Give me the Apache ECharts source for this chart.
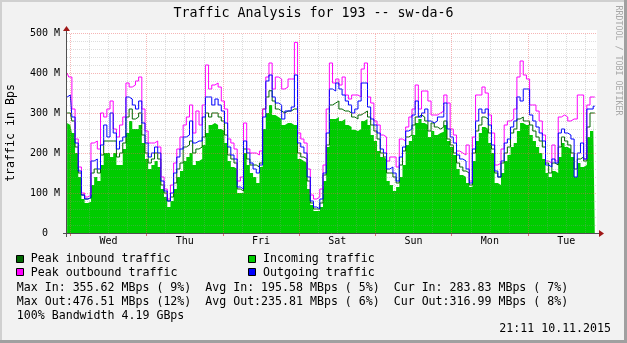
<!DOCTYPE html>
<html>
<head>
<meta charset="utf-8">
<script src="https://cdn.jsdelivr.net/npm/echarts@6/dist/echarts.min.js"></script>
<style>
  html, body { margin: 0; padding: 0; background: #f2f2f2; }
  #chart { width: 627px; height: 343px; }
</style>
</head>
<body>
<div id="chart"></div>
<script>
// Hourly samples, hours counted from Wednesday 00:00 (first sample is Tue 23:00).
const firstSampleHour = -1;
const dayNames = ['Wed', 'Thu', 'Fri', 'Sat', 'Sun', 'Mon', 'Tue'];
const yTickValues = [0, 100, 200, 300, 400, 500];   // MBps

// Incoming traffic (average), MBps
const incoming = [
  275, 270, 250, 200, 140, 85, 75, 78, 120, 140, 130, 170, 200, 200, 190, 200, 170, 170, 210, 250,
  280, 260, 260, 270, 225, 185, 160, 170, 180, 165, 110, 90, 65, 80, 110, 140, 155, 180, 190, 200,
  170, 180, 185, 220, 250, 270, 275, 270, 260, 255, 225, 180, 165, 160, 100, 100, 200, 170, 150, 140,
  125, 165, 260, 300, 320, 295, 290, 285, 270, 275, 275, 270, 270, 185, 180, 175, 110, 70, 55, 55,
  65, 130, 215, 285, 285, 290, 280, 285, 270, 265, 258, 255, 260, 280, 285, 270, 245, 230, 205, 190,
  185, 130, 120, 105, 115, 140, 170, 220, 230, 245, 275, 285, 275, 270, 240, 255, 245, 250, 253, 270,
  230, 215, 195, 160, 145, 140, 125, 115, 180, 230, 250, 265, 260, 225, 200, 125, 120, 150, 180, 195,
  215, 225, 255, 275, 270, 270, 245, 230, 215, 200, 185, 150, 140, 155, 150, 190, 225, 215, 210, 190,
  140, 175, 165, 170, 240, 255, 283.83
];

// Peak inbound traffic, MBps
const peakIn = [
  300, 300, 280, 215, 150, 95, 85, 88, 150, 160, 150, 195, 230, 230, 230, 230, 190, 200, 225, 290,
  310, 285, 290, 300, 245, 200, 175, 185, 200, 185, 120, 100, 80, 90, 125, 160, 175, 215, 220, 230,
  200, 210, 215, 240, 300, 290, 300, 300, 290, 280, 245, 195, 185, 175, 110, 105, 210, 185, 170, 170,
  165, 175, 310, 340, 355.62, 330, 310, 305, 300, 305, 305, 310, 310, 200, 190, 185, 130, 75, 60, 60,
  75, 145, 220, 320, 325, 330, 310, 305, 305, 300, 290, 285, 295, 300, 305, 290, 270, 255, 235, 200,
  190, 150, 150, 140, 125, 170, 205, 240, 245, 270, 290, 295, 290, 280, 255, 275, 265, 260, 265, 280,
  235, 220, 200, 175, 165, 155, 150, 120, 200, 255, 270, 290, 285, 250, 210, 150, 140, 175, 200, 215,
  250, 260, 285, 290, 280, 280, 270, 255, 240, 230, 215, 175, 150, 175, 170, 215, 240, 230, 220, 200,
  160, 185, 190, 180, 265, 300, 300
];

// Outgoing traffic (average), MBps
const outgoing = [
  340, 345, 290, 225, 155, 95, 85, 88, 180, 185, 160, 220, 270, 240, 300, 250, 210, 230, 240, 340,
  335, 320, 310, 330, 275, 225, 190, 200, 215, 200, 130, 105, 80, 100, 150, 190, 210, 240, 245, 280,
  225, 230, 230, 290, 340, 340, 320, 335, 320, 305, 275, 215, 195, 185, 115, 110, 230, 200, 175, 160,
  150, 170, 290, 380, 395, 340, 325, 320, 285, 305, 305, 315, 395, 225, 215, 200, 140, 80, 65, 60,
  85, 150, 250, 360, 355, 375, 360, 345, 330, 320, 300, 310, 330, 375, 375, 315, 285, 270, 250, 210,
  200, 160, 165, 150, 130, 190, 215, 255, 260, 295, 330, 290, 300, 310, 280, 275, 280, 290, 290, 325,
  260, 240, 225, 195, 185, 180, 160, 125, 210, 280, 310, 300, 310, 270, 220, 155, 140, 180, 225, 235,
  265, 280, 340, 330, 360, 360, 295, 280, 265, 250, 230, 170, 165, 185, 175, 250, 260, 250, 245, 235,
  140, 200, 225, 185, 310, 310, 316.99
];

// Peak outbound traffic, MBps
const peakOut = [
  400, 390, 310, 235, 165, 100, 90, 95, 225, 230, 210, 300, 290, 310, 330, 260, 240, 270, 290, 375,
  365, 370, 380, 390, 310, 255, 225, 225, 230, 215, 140, 110, 85, 120, 175, 210, 240, 270, 290, 320,
  250, 305, 270, 320, 420, 360, 370, 375, 365, 330, 310, 235, 225, 210, 130, 140, 275, 210, 200, 200,
  195, 205, 310, 390, 425, 360, 390, 385, 360, 365, 385, 385, 476.51, 250, 235, 225, 160, 95, 85, 90,
  110, 170, 310, 425, 375, 385, 370, 390, 345, 335, 345, 345, 340, 410, 425, 340, 325, 280, 270, 245,
  240, 180, 190, 190, 165, 235, 230, 265, 290, 310, 370, 310, 355, 355, 330, 295, 295, 300, 305, 345,
  325, 260, 245, 205, 200, 195, 220, 130, 240, 345, 345, 365, 350, 295, 250, 170, 175, 210, 270, 280,
  285, 310, 390, 430, 395, 385, 320, 320, 305, 280, 245, 180, 175, 220, 180, 290, 295, 290, 280, 285,
  285, 345, 345, 185, 320, 340, 340
];

const legendRows = [
  'Max In: 355.62 MBps ( 9%)  Avg In: 195.58 MBps ( 5%)  Cur In: 283.83 MBps ( 7%)',
  'Max Out:476.51 MBps (12%)  Avg Out:235.81 MBps ( 6%)  Cur Out:316.99 MBps ( 8%)',
  '100% Bandwidth 4.19 GBps'
];
const stampText = '21:11 10.11.2015';

const MONO = '"DejaVu Sans Mono", "Liberation Mono", monospace';
const MINOR_GRID = 'rgba(150,150,150,0.32)';
const MAJOR_GRID = 'rgba(235,90,90,0.45)';

const toPairs = arr => arr.map((v, i) => [firstSampleHour + i, v]);

// vertical grid: day boundaries (major) and 6-hour steps (minor)
const dayBounds = dayNames.map((_, i) => i * 24);
const sixHourMarks = [];
dayNames.forEach((_, d) => [6, 12, 18].forEach(h => sixHourMarks.push(d * 24 + h)));
const noonMarks = dayNames.map((_, i) => i * 24 + 12);

const chart = echarts.init(document.getElementById('chart'), null, { renderer: 'canvas' });

const vGrid = [
  ...sixHourMarks.map(h => ({ xAxis: h, lineStyle: { color: MINOR_GRID, type: [1, 1], width: 1 } })),
  ...dayBounds.map(h => ({ xAxis: h, lineStyle: { color: MAJOR_GRID, type: [1, 1], width: 1 } }))
];

const lineSeries = (name, data, color, z) => ({
  name, type: 'line', step: 'middle', data: toPairs(data),
  symbol: 'none', z, color,
  lineStyle: { color, width: 1 },
  emphasis: { disabled: true }
});

chart.setOption({
  animation: false,
  backgroundColor: '#f2f2f2',
  grid: { left: 67, right: 30, top: 33, bottom: 110, show: true, backgroundColor: '#ffffff', borderWidth: 0 },
  xAxis: {
    type: 'value', min: -1.04, max: 165.7,
    axisLine: { show: false },
    axisTick: { show: true, customValues: dayBounds, length: 3, lineStyle: { color: '#e07070' } },
    axisLabel: {
      customValues: noonMarks,
      formatter: v => dayNames[Math.round((v - 12) / 24)],
      color: '#000', fontFamily: MONO, fontSize: 10, margin: 3
    },
    splitLine: { show: false }
  },
  yAxis: {
    type: 'value', min: yTickValues[0], max: yTickValues[yTickValues.length - 1], interval: 100,
    z: 3,
    axisLine: { show: false },
    axisTick: { show: false },
    axisLabel: {
      formatter: v => (v === 0 ? '0  ' : v + ' M'),
      color: '#000', fontFamily: MONO, fontSize: 10, margin: 7
    },
    splitLine: { show: true, lineStyle: { color: MAJOR_GRID, type: [1, 1], width: 1 } },
    minorTick: { show: false, splitNumber: 5 },
    minorSplitLine: { show: true, lineStyle: { color: MINOR_GRID, type: [1, 1], width: 1 } }
  },
  series: [
    {
      name: 'Incoming traffic', type: 'line', step: 'middle', data: toPairs(incoming),
      symbol: 'none', z: 1, color: '#00cc00',
      lineStyle: { width: 0 },
      areaStyle: { color: '#00cc00', opacity: 1 },
      markLine: { silent: true, symbol: 'none', label: { show: false }, z: 4, animation: false, data: vGrid }
    },
    lineSeries('Peak inbound traffic', peakIn, '#006600', 2),
    lineSeries('Peak outbound traffic', peakOut, '#ff00ff', 2),
    lineSeries('Outgoing traffic', outgoing, '#0000ff', 2)
  ],
  graphic: [
    // frame shading
    { type: 'rect', shape: { x: 0, y: 0, width: 627, height: 2 }, style: { fill: '#d0d0d0' }, silent: true },
    { type: 'rect', shape: { x: 0, y: 0, width: 2, height: 343 }, style: { fill: '#d0d0d0' }, silent: true },
    { type: 'rect', shape: { x: 624, y: 0, width: 3, height: 343 }, style: { fill: '#a0a0a0' }, silent: true },
    { type: 'rect', shape: { x: 0, y: 340, width: 627, height: 3 }, style: { fill: '#a0a0a0' }, silent: true },
    // canvas strip above the top gridline
    { type: 'rect', shape: { x: 67, y: 30, width: 530, height: 3 }, style: { fill: '#ffffff' }, silent: true, z: -1 },
    // axes with arrows
    { type: 'line', shape: { x1: 66.5, y1: 30, x2: 66.5, y2: 237 }, style: { stroke: '#505050', lineWidth: 1 }, silent: true, z: 10 },
    { type: 'line', shape: { x1: 63, y1: 233.5, x2: 600, y2: 233.5 }, style: { stroke: '#505050', lineWidth: 1 }, silent: true, z: 10 },
    { type: 'polygon', shape: { points: [[63, 31], [70, 31], [66.5, 26]] }, style: { fill: '#a01818' }, silent: true, z: 10 },
    { type: 'polygon', shape: { points: [[599, 230], [599, 237], [604, 233.5]] }, style: { fill: '#a01818' }, silent: true, z: 10 },
    // title, axis name, watermark
    { type: 'text', x: 313.5, y: 13.5, silent: true,
      style: { text: 'Traffic Analysis for 193 -- sw-da-6', font: '13.3px ' + MONO, fill: '#000', align: 'center', verticalAlign: 'middle' } },
    { type: 'text', x: 11, y: 133, rotation: Math.PI / 2, silent: true,
      style: { text: 'traffic in Bps', font: '11.6px ' + MONO, fill: '#000', align: 'center', verticalAlign: 'middle' } },
    { type: 'text', x: 618.5, y: 60.5, rotation: -Math.PI / 2, silent: true,
      style: { text: 'RRDTOOL / TOBI OETIKER', font: '8.3px ' + MONO, fill: '#a8a8a8', align: 'center', verticalAlign: 'middle' } },
    // legend swatches
    { type: 'rect', shape: { x: 16.5, y: 255.5, width: 7, height: 7 }, style: { fill: '#006600', stroke: '#000', lineWidth: 1 }, silent: true },
    { type: 'rect', shape: { x: 248.5, y: 255.5, width: 7, height: 7 }, style: { fill: '#00cc00', stroke: '#000', lineWidth: 1 }, silent: true },
    { type: 'rect', shape: { x: 16.5, y: 268.5, width: 7, height: 7 }, style: { fill: '#ff00ff', stroke: '#000', lineWidth: 1 }, silent: true },
    { type: 'rect', shape: { x: 248.5, y: 268.5, width: 7, height: 7 }, style: { fill: '#0000ff', stroke: '#000', lineWidth: 1 }, silent: true },
    { type: 'text', x: 30.8, y: 259, silent: true, style: { text: 'Peak inbound traffic', font: '11.6px ' + MONO, fill: '#000', verticalAlign: 'middle' } },
    { type: 'text', x: 263, y: 259, silent: true, style: { text: 'Incoming traffic', font: '11.6px ' + MONO, fill: '#000', verticalAlign: 'middle' } },
    { type: 'text', x: 30.8, y: 272.5, silent: true, style: { text: 'Peak outbound traffic', font: '11.6px ' + MONO, fill: '#000', verticalAlign: 'middle' } },
    { type: 'text', x: 263, y: 272.5, silent: true, style: { text: 'Outgoing traffic', font: '11.6px ' + MONO, fill: '#000', verticalAlign: 'middle' } },
    { type: 'text', x: 16.8, y: 287.5, silent: true, style: { text: legendRows[0], font: '11.6px ' + MONO, fill: '#000', verticalAlign: 'middle' } },
    { type: 'text', x: 16.8, y: 301.5, silent: true, style: { text: legendRows[1], font: '11.6px ' + MONO, fill: '#000', verticalAlign: 'middle' } },
    { type: 'text', x: 16.8, y: 315.5, silent: true, style: { text: legendRows[2], font: '11.6px ' + MONO, fill: '#000', verticalAlign: 'middle' } },
    { type: 'text', x: 611, y: 329, silent: true, style: { text: stampText, font: '11.6px ' + MONO, fill: '#000', align: 'right', verticalAlign: 'middle' } }
  ]
});
</script>
</body>
</html>
